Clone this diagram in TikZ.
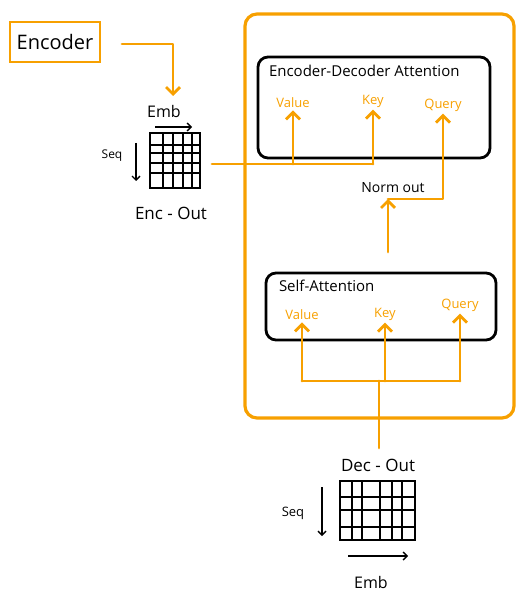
\documentclass[tikz,border=0pt]{standalone}
\usepackage{fontspec}
\setmainfont{Open Sans}
\usepackage{tikz}
\usetikzlibrary{arrows.meta, positioning}
\definecolor{sketchorange}{HTML}{F7A000}

\tikzset{
  hand/.style={font=\fontsize{8}{9}\selectfont, text=black, inner sep=1pt},
  lbl/.style={font=\fontsize{6.5}{7.5}\selectfont, text=sketchorange, inner sep=1pt},
  wire/.style={sketchorange, line width=1.4pt, line cap=round, line join=round},
  tip/.style={-{Straight Barb[length=3.5pt,width=7pt]}},
  attbox/.style={draw=black, line width=1.4pt, rounded corners=5pt},
  gridline/.style={black, line width=1.1pt},
  dimarrow/.style={black, line width=0.7pt, -{Straight Barb[length=2pt,width=4pt]}}
}

\begin{document}
\begin{tikzpicture}[x=0.5pt, y=-0.5pt]
    \useasboundingbox (0,0) rectangle (516,593);

    % Encoder block and its output
    \node[draw=sketchorange, line width=1.4pt, minimum width=45pt, minimum height=20pt,
          font=\fontsize{10}{12}\selectfont] (encoder) at (55,42) {Encoder};
    \coordinate (encstart) at (122,44);
    \coordinate (encdrop) at (173,96);
    \draw[wire, tip] (encstart) -| (encdrop);

    % Enc-Out grid
    \draw[gridline] (150,133) rectangle (200,188);
    \foreach \x in {163,173,183,192} {
      \draw[gridline] (\x,133) -- (\x,188);
    }
    \foreach \y in {145,153,163,173} {
      \draw[gridline] (150,\y) -- (200,\y);
    }
    \node[hand] (encemb) at (164,112) {Emb};
    \draw[dimarrow] (155,127) -- (192,127);
    \node[hand, font=\fontsize{6}{7}\selectfont] (encseq) at (112,156) {Seq};
    \draw[dimarrow] (136,143) -- (136,181);
    \node[hand, font=\fontsize{8.5}{10}\selectfont] (encname) at (171,213) {Enc - Out};

    % Decoder frame
    \draw[sketchorange, line width=1.6pt, rounded corners=6pt] (245,14) rectangle (514,418);

    % Encoder-Decoder attention
    \node[attbox, minimum width=116pt, minimum height=50.5pt] (encdec) at (374,107.5) {};
    \node[hand, anchor=north west, font=\fontsize{7.5}{9}\selectfont] (encdectitle)
      at ([shift={(5pt,-3.5pt)}]encdec.north west) {Encoder-Decoder Attention};
    \node[lbl] (encval) at (293,103) {Value};
    \node[lbl] (enckey) at (373,101) {Key};
    \node[lbl] (encqry) at (443,105) {Query};

    % Self attention
    \node[attbox, minimum width=115pt, minimum height=33.5pt] (selfatt) at (381,306.5) {};
    \node[hand, anchor=north west, font=\fontsize{7.5}{9}\selectfont] (selftitle)
      at ([shift={(6pt,-3pt)}]selfatt.north west) {Self-Attention};
    \node[lbl] (saval) at (302,315) {Value};
    \node[lbl] (sakey) at (385,314) {Key};
    \node[lbl] (saqry) at (460,305) {Query};

    % Enc-Out into value and key
    \coordinate (encline) at (212,164);
    \draw[wire] (encline) -- (encline -| enckey.south);
    \draw[wire, tip] (encline -| encval.south) -- (encval.south);
    \draw[wire, tip] (encline -| enckey.south) -- (enckey.south);

    % Norm out into query
    \node[hand, font=\fontsize{7}{8}\selectfont] (norm) at (393,188) {Norm out};
    \coordinate (saout) at (388,252);
    \coordinate (normpt) at (388,199);
    \draw[wire, tip] (saout) -- (normpt);
    \draw[wire, tip] (normpt) -| (encqry.south);

    % Dec-Out into self attention
    \coordinate (decin) at (379,448);
    \coordinate (split) at (379,381);
    \draw[wire] (decin) -- (split);
    \draw[wire] (split -| saval.south) -- (split -| saqry.south);
    \draw[wire, tip] (split -| saval.south) -- (saval.south);
    \draw[wire, tip] (split -| sakey.south) -- (sakey.south);
    \draw[wire, tip] (split -| saqry.south) -- (saqry.south);

    % Dec-Out grid
    \draw[gridline] (340,481) rectangle (415,540);
    \foreach \x in {352,362,380,392,402} {
      \draw[gridline] (\x,481) -- (\x,540);
    }
    \foreach \y in {497,510,527} {
      \draw[gridline] (340,\y) -- (415,\y);
    }
    \node[hand, font=\fontsize{8.5}{10}\selectfont] (decname) at (378,465) {Dec - Out};
    \node[hand, font=\fontsize{6.5}{8}\selectfont] (decseq) at (293,513) {Seq};
    \draw[dimarrow] (322,487) -- (322,536);
    \draw[dimarrow] (348,556) -- (408,556);
    \node[hand] (decemb) at (371,582) {Emb};
\end{tikzpicture}
\end{document}
